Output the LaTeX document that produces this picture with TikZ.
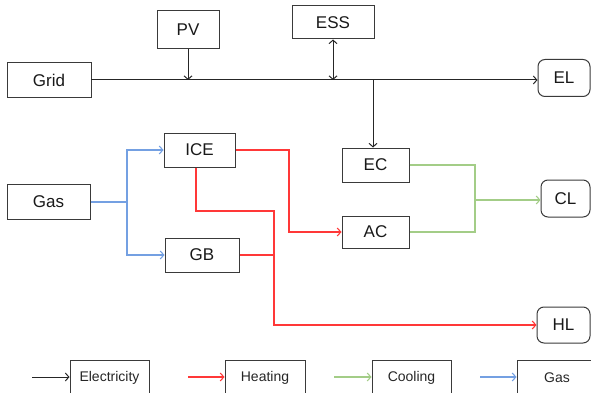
\documentclass[tikz,border=0pt]{standalone}
\usepackage{fontspec}
\setmainfont{Liberation Sans}
\usetikzlibrary{arrows.meta,calc}
\definecolor{heatc}{HTML}{FF3838}
\definecolor{coolc}{HTML}{A3CD87}
\definecolor{gasc}{HTML}{74A0E2}
\definecolor{boxc}{HTML}{3A3A3A}
\begin{document}
\begin{tikzpicture}[x=1pt,y=-1pt,
  box/.style={draw=boxc,line width=1pt,inner sep=0pt,font=\fontsize{17}{17}\selectfont,text=black!90},
  load/.style={box,rounded corners=7pt},
  leg/.style={draw=boxc,line width=1pt,inner sep=0pt,font=\fontsize{14}{14}\selectfont,text=black!85,minimum height=36pt},
  tip/.style={-{Straight Barb[length=3.5pt,width=8pt]}},
  elec/.style={draw=black!85,line width=1pt},
  heat/.style={draw=heatc,line width=1.1pt},
  cool/.style={draw=coolc,line width=1.1pt},
  gasl/.style={draw=gasc,line width=1.1pt}]
\clip (0,0) rectangle (591,393);
\useasboundingbox (0,0) rectangle (591,393);
% nodes
\node[box,minimum width=84pt,minimum height=35pt] (grid) at (49,80) {Grid};
\node[box,minimum width=62pt,minimum height=38pt] (pv) at (188,30) {PV};
\node[box,minimum width=82pt,minimum height=33pt] (ess) at (333,22.5) {ESS};
\node[load,minimum width=52pt,minimum height=37pt] (el) at (564,78) {EL};
\node[box,minimum width=71pt,minimum height=34pt] (ice) at (199.5,150) {ICE};
\node[box,minimum width=74pt,minimum height=34pt] (gb) at (202,255) {GB};
\node[box,minimum width=83pt,minimum height=35pt] (gas) at (48.5,202) {Gas};
\node[box,minimum width=67pt,minimum height=34pt] (ec) at (375.5,165) {EC};
\node[box,minimum width=67pt,minimum height=32pt] (ac) at (375.5,232) {AC};
\node[load,minimum width=49pt,minimum height=37pt] (cl) at (565.5,198.5) {CL};
\node[load,minimum width=53pt,minimum height=36pt] (hl) at (563.5,325) {HL};
% electricity
\coordinate (bus) at (91,80);
\draw[elec,tip] (bus) -- (bus -| el.west);
\draw[elec,tip] (pv.south) -- (pv.south |- bus);
\draw[elec,{Straight Barb[length=3.5pt,width=8pt]}-{Straight Barb[length=3.5pt,width=8pt]}] (ess.south) -- (ess.south |- bus);
\coordinate (br) at (373,80);
\draw[elec,tip] (br) -- (br |- ec.north);
% cooling
\coordinate (gj) at (475,200);
\draw[cool] (ec.east) -| (gj) |- (ac.east);
\draw[cool,tip] (gj) -- (gj -| cl.west);
% gas
\coordinate (bj) at (127,202);
\draw[gasl] (gas.east) -- (bj);
\draw[gasl,tip] (bj) |- (ice.west);
\draw[gasl,tip] (bj) |- (gb.west);
% heating
\coordinate (r1) at (289,190);
\draw[heat,tip] (ice.east) -| (r1) |- (ac.west);
\coordinate (r2) at (196,211);
\coordinate (r3) at (274,255);
\draw[heat,tip] (r2 |- ice.south) -- (r2) -| (r3) |- (hl.west);
\draw[heat] (gb.east) -- (r3);
% legend
\node[leg,minimum width=79pt] (lge) at (109.5,378) {Electricity};
\node[leg,minimum width=80pt] (lgh) at (265,378) {Heating};
\node[leg,minimum width=79pt] (lgc) at (411.5,378) {Cooling};
\node[leg,minimum width=80pt] (lgg) at (557,378) {Gas};
\coordinate (ae) at (32,377);
\coordinate (ah) at (188,377);
\coordinate (ac0) at (334,377);
\coordinate (ag) at (480,377);
\draw[elec,tip] (ae) -- (ae -| lge.west);
\draw[heat,tip] (ah) -- (ah -| lgh.west);
\draw[cool,tip] (ac0) -- (ac0 -| lgc.west);
\draw[gasl,tip] (ag) -- (ag -| lgg.west);
\end{tikzpicture}
\end{document}
